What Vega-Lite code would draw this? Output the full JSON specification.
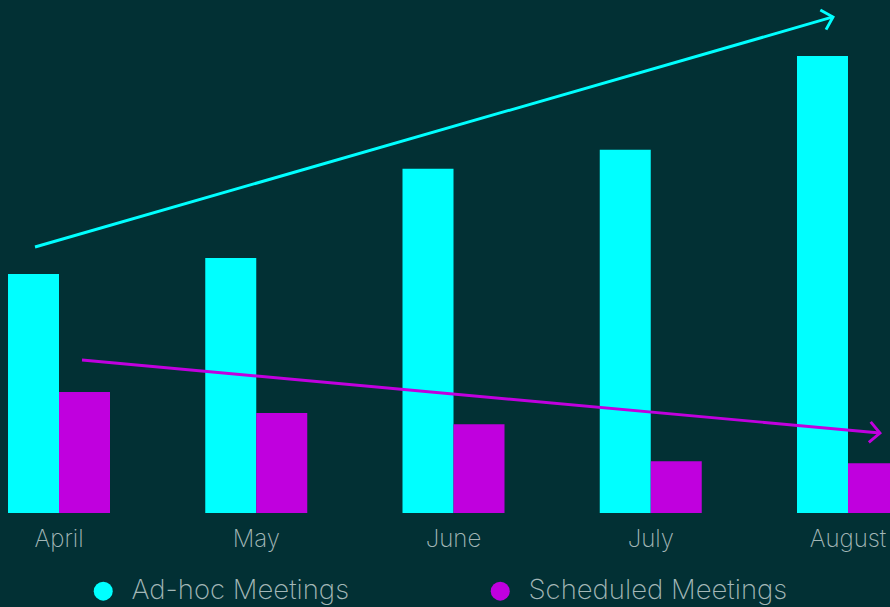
{
  "$schema": "https://vega.github.io/schema/vega-lite/v6.json",
  "width": 890,
  "height": 513,
  "autosize": {"type": "none"},
  "padding": {"left": 0, "top": 0, "right": 0, "bottom": 94},
  "background": "#023034",
  "config": {
    "view": {"stroke": null},
    "font": "Inter",
    "axis": {"domain": false, "ticks": false, "grid": false, "title": null, "labelFont": "Inter", "labelFontWeight": 200, "labelFontSize": 24, "labelColor": "#A3B7B7", "labelBaseline": "alphabetic", "labelPadding": 33}
  },
  "datasets": {
    "bars": [
      {"month": "April", "series": "Ad-hoc Meetings", "value": 46.6},
      {"month": "April", "series": "Scheduled Meetings", "value": 23.6},
      {"month": "May", "series": "Ad-hoc Meetings", "value": 49.7},
      {"month": "May", "series": "Scheduled Meetings", "value": 19.5},
      {"month": "June", "series": "Ad-hoc Meetings", "value": 67.1},
      {"month": "June", "series": "Scheduled Meetings", "value": 17.3},
      {"month": "July", "series": "Ad-hoc Meetings", "value": 70.8},
      {"month": "July", "series": "Scheduled Meetings", "value": 10.1},
      {"month": "August", "series": "Ad-hoc Meetings", "value": 89.1},
      {"month": "August", "series": "Scheduled Meetings", "value": 9.7}
    ],
    "trends": [
      {"series": "Ad-hoc Meetings", "pos": -0.1217, "value": 51.85, "end": false},
      {"series": "Ad-hoc Meetings", "pos": 3.924, "value": 96.69, "end": true},
      {"series": "Scheduled Meetings", "pos": 0.1166, "value": 29.82, "end": false},
      {"series": "Scheduled Meetings", "pos": 4.162, "value": 15.59, "end": true}
    ]
  },
  "layer": [
    {
      "data": {"name": "bars"},
      "mark": {"type": "bar"},
      "encoding": {
        "x": {"field": "month", "type": "nominal", "sort": ["April", "May", "June", "July", "August"],
              "scale": {"type": "band", "paddingInner": 0.4829, "paddingOuter": 0.0406, "range": [0, 907]},
              "axis": {"labelAngle": 0}},
        "xOffset": {"field": "series", "type": "nominal", "scale": {"paddingInner": 0, "paddingOuter": 0}},
        "y": {"field": "value", "type": "quantitative", "scale": {"domain": [0, 100], "nice": false, "zero": true}, "axis": null},
        "color": {"field": "series", "type": "nominal",
                  "scale": {"domain": ["Ad-hoc Meetings", "Scheduled Meetings"], "range": ["#00FFFF", "#C000DE"]},
                  "legend": {"orient": "none", "legendX": 89.5, "legendY": 577, "direction": "horizontal", "title": null,
                             "symbolType": "circle", "symbolSize": 361, "symbolOpacity": 1, "symbolStrokeWidth": 0,
                             "labelFont": "Inter", "labelFontWeight": 200, "labelFontSize": 27.5, "labelColor": "#A3B7B7",
                             "labelOffset": 14.5, "columnPadding": 137, "padding": 0, "labelLimit": 400}}
      }
    },
    {
      "data": {"name": "trends"},
      "encoding": {
        "x": {"field": "pos", "type": "quantitative", "scale": {"domain": [-0.2991, 4.2129], "nice": false, "zero": false}, "axis": null},
        "y": {"field": "value", "type": "quantitative"},
        "color": {"field": "series", "type": "nominal", "legend": null}
      },
      "layer": [
        {"mark": {"type": "line", "strokeWidth": 2.9}},
        {
          "transform": [{"filter": "datum.end && datum.series == 'Ad-hoc Meetings'"}],
          "mark": {"type": "point", "shape": "M-1,-1L0,0L-1,1", "size": 420, "strokeWidth": 2.9, "filled": false, "opacity": 1, "angle": -16.1}
        },
        {
          "transform": [{"filter": "datum.end && datum.series == 'Scheduled Meetings'"}],
          "mark": {"type": "point", "shape": "M-1,-1L0,0L-1,1", "size": 420, "strokeWidth": 2.9, "filled": false, "opacity": 1, "angle": 5.2}
        }
      ]
    }
  ],
  "resolve": {"scale": {"x": "independent"}, "legend": {"color": "independent"}}
}
